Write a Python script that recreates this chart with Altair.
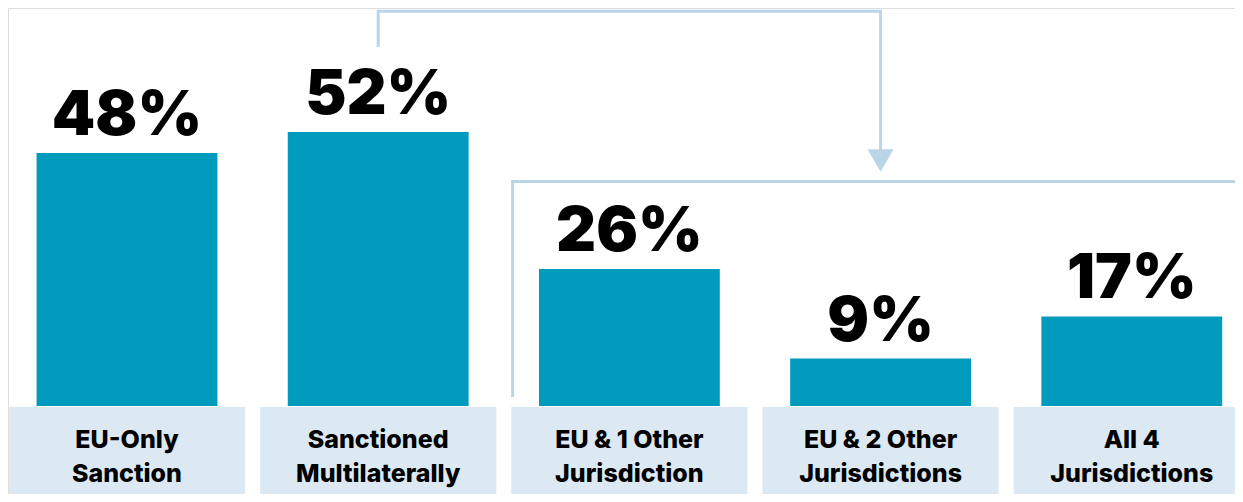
import altair as alt
import pandas as pd

# ---- data ----
categories = [
    "EU-Only\nSanction",
    "Sanctioned\nMultilaterally",
    "EU & 1 Other\nJurisdiction",
    "EU & 2 Other\nJurisdictions",
    "All 4\nJurisdictions",
]
values = [48, 52, 26, 9, 17]
value_labels = ["48%", "52%", "26%", "9%", "17%"]

# annotation connector (x in category-index units, y in percent units)
connector_x = [1, 1, 3, 3]
connector_y = [68.1, 74.9, 74.9, 48.4]
bracket_x = [1.535, 1.535, 4.5]
bracket_y = [1.7, 42.6, 42.6]
arrow_x = [3]
arrow_y = [46.6]

X_DOMAIN = [-0.4737, 4.4109]
Y_DOMAIN = [-16.70, 75.52]

BAR_COLOR = "#009BBD"
BOX_COLOR = "#DCE8F2"
LINE_COLOR = "#BBD5E8"

df = pd.DataFrame({
    "idx": list(range(len(categories))),
    "label": categories,
    "value": values,
    "vlabel": value_labels,
})

xs = alt.Scale(domain=X_DOMAIN, nice=False, zero=False)
ys = alt.Scale(domain=Y_DOMAIN, nice=False, zero=False)

base = alt.Chart(df)

boxes = base.transform_calculate(
    x0="datum.idx - 0.47", x1="datum.idx + 0.47", y0="-0.2", y1=str(Y_DOMAIN[0])
).mark_rect(color=BOX_COLOR).encode(
    x=alt.X("x0:Q", scale=xs, axis=None),
    x2="x1:Q",
    y=alt.Y("y0:Q", scale=ys, axis=None),
    y2="y1:Q",
)

bars = base.transform_calculate(
    x0="datum.idx - 0.36", x1="datum.idx + 0.36"
).mark_rect(color=BAR_COLOR).encode(
    x=alt.X("x0:Q", scale=xs, axis=None),
    x2="x1:Q",
    y=alt.Y("value:Q", scale=ys, axis=None),
    y2=alt.datum(0),
)

value_text = base.mark_text(
    font="Inter", fontWeight=900, fontSize=62, color="#000000",
    baseline="alphabetic", dy=-18,
).encode(
    x=alt.X("idx:Q", scale=xs, axis=None),
    y=alt.Y("value:Q", scale=ys, axis=None),
    text="vlabel:N",
)

cat_text = base.transform_calculate(ty="-6.45").mark_text(
    font="Inter", fontWeight=800, fontSize=25, color="#000000",
    baseline="middle", lineBreak="\n", lineHeight=34,
).encode(
    x=alt.X("idx:Q", scale=xs, axis=None),
    y=alt.Y("ty:Q", scale=ys, axis=None),
    text="label:N",
)

conn_df = pd.DataFrame({"x": connector_x, "y": connector_y, "o": list(range(len(connector_x)))})
brk_df = pd.DataFrame({"x": bracket_x, "y": bracket_y, "o": list(range(len(bracket_x)))})
arr_df = pd.DataFrame({"x": arrow_x, "y": arrow_y})

connector = alt.Chart(conn_df).mark_line(
    color=LINE_COLOR, strokeWidth=3, strokeJoin="miter", strokeCap="butt"
).encode(
    x=alt.X("x:Q", scale=xs, axis=None),
    y=alt.Y("y:Q", scale=ys, axis=None),
    order="o:Q",
)

bracket = alt.Chart(brk_df).mark_line(
    color=LINE_COLOR, strokeWidth=3, strokeJoin="miter", strokeCap="butt", clip=True
).encode(
    x=alt.X("x:Q", scale=xs, axis=None),
    y=alt.Y("y:Q", scale=ys, axis=None),
    order="o:Q",
)

arrow = alt.Chart(arr_df).mark_point(
    shape="triangle-down", filled=True, size=676, color=LINE_COLOR, opacity=1
).encode(
    x=alt.X("x:Q", scale=xs, axis=None),
    y=alt.Y("y:Q", scale=ys, axis=None),
)

chart = alt.layer(boxes, bars, bracket, connector, arrow, value_text, cat_text).properties(
    width=1227, height=486, padding=0,
    autosize=alt.AutoSizeParams(type="none"),
).configure_view(strokeWidth=0, strokeOpacity=0).configure(background="#ffffff")

chart.save("out.html", embed_options={"renderer": "svg", "actions": False})
